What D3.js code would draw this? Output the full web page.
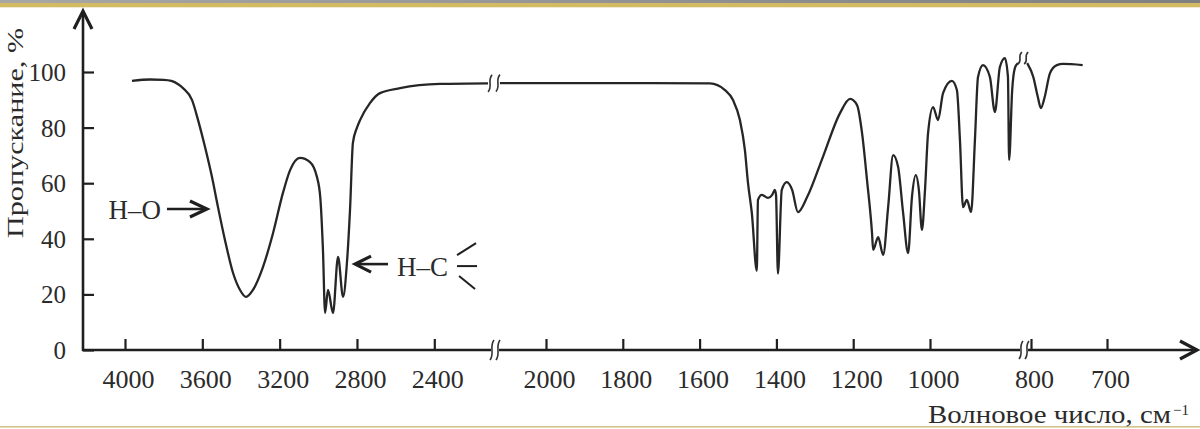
<!DOCTYPE html>
<html><head><meta charset="utf-8">
<script src="https://cdnjs.cloudflare.com/ajax/libs/d3/7.8.5/d3.min.js"></script>
<style>
body{margin:0;background:#fff;overflow:hidden} svg{display:block}
svg text{font-family:"Liberation Serif","DejaVu Serif","Times New Roman",serif !important;}
</style>
</head><body>
<svg id="c" width="1200" height="429"></svg>
<script>
// ---- data (wavenumber cm^-1, transmittance %) ----
const seg1Spectrum = [[3964,96.8],[3870,97.3],[3800,97.2],[3760,96.8],[3725,95.6],[3700,94.2],[3653,89.9],[3622,82.7],[3586,73.0],[3550,62.2],[3519,51.4],[3483,39.6],[3441,27.7],[3405,21.6],[3374,19.1],[3338,21.6],[3286,29.9],[3234,42.1],[3183,56.5],[3146,64.7],[3095,69.1],[3043,67.6],[3007,62.2],[2990,55],[2976,36],[2965,13.3],[2950,21.6],[2924,13.3],[2898,33.5],[2872,19.1],[2852,31.3],[2836,50.4],[2821,74.5],[2800,80],[2784,82.7],[2733,88.8],[2681,92.4],[2577,94.2],[2371,95.7],[2122,95.9]];
const seg2Spectrum = [[2120,96.0],[1990,96.0],[1729,96.0],[1573,95.9],[1534,93.5],[1513,89.9],[1495,82.7],[1482,71.9],[1474,60.1],[1464,49.3],[1451,28.5],[1448,54],[1438,55.8],[1422,54.7],[1411,55.8],[1404,57.6],[1401,55.8],[1396,27.5],[1386,57.6],[1373,60.4],[1359,57.6],[1344,49.6],[1320,55],[1279,69.4],[1234,85.3],[1208,90.3],[1190,88.1],[1177,78.1],[1164,61.1],[1151,42.1],[1148,36.0],[1135,40.6],[1122,34.2],[1109,51.4],[1096,70.1],[1083,65.8],[1070,49.3],[1057,34.9],[1047,55],[1037,62.9],[1029,57.6],[1021,43.2],[1013,57.6],[1005,78.1],[992,87.4],[979,82.7],[966,92.4],[943,96.8],[930,93.5],[922,75.5],[914,51.4],[904,54],[893,49.6],[883,75.5],[875,98.2],[862,102.5],[844,98.2],[831,85.6],[818,101.8],[805,105],[797,98.2],[794,68.3],[786,93.5],[779,101.4],[771,103.2]];
const seg3Spectrum = [[805,103.2],[797,98.2],[791,91],[787,87],[782,91],[775,99.6],[766,102.5],[758,102.9],[732,102.5]];
const yTicks = [0,20,40,60,80,100];
const seg1Ticks = [4000,3600,3200,2800,2400];
const seg2Ticks = [2000,1800,1600,1400,1200,1000];
const seg3Ticks = [800,700];
const yTitle = "Пропускание, %";
const xTitle = "Волновое число, см";
const xTitleSup = "−1";
const annotations = [
  {text:"H–O", wave:3576, t:50.7, seg:1, dir:"right"},
  {text:"H–C", wave:2810, t:30.9, seg:1, dir:"left"}
];

// ---- layout ----
const svg = d3.select("#c");
const ink = "#1f1f1f";
const serif = '"Liberation Serif","DejaVu Serif","Times New Roman",serif';

// decorative top / bottom bands
const defs = svg.append("defs");
const g0 = defs.append("linearGradient").attr("id","gb");
g0.append("stop").attr("offset","0%").attr("stop-color","#a9a6a6");
g0.append("stop").attr("offset","100%").attr("stop-color","#808080");
svg.append("rect").attr("x",0).attr("y",0).attr("width",1200).attr("height",3).attr("fill","url(#gb)");
svg.append("rect").attr("x",0).attr("y",3).attr("width",1200).attr("height",4.3).attr("fill","#d3bb64");
svg.append("rect").attr("x",0).attr("y",426).attr("width",1200).attr("height",1.6).attr("fill","#d2c48a");

const y = d3.scaleLinear().domain([0,100]).range([350,72]);
const x1 = d3.scaleLinear().domain([4000,2400]).range([125,434.3]);
const x2 = d3.scaleLinear().domain([2000,1000]).range([546,930]);
const x3 = d3.scaleLinear().domain([800,700]).range([1031,1107]);
const segScale = {1:x1,2:x2,3:x3};

// axes lines
const axisW = 2.6;
svg.append("line").attr("x1",83).attr("y1",351).attr("x2",83).attr("y2",12)
  .attr("stroke",ink).attr("stroke-width",axisW);
svg.append("path").attr("d","M74,29 L83,11 L92,29").attr("fill","none")
  .attr("stroke",ink).attr("stroke-width",3.2).attr("stroke-linejoin","miter");
[[82,491],[499,1020],[1028,1196]].forEach(s=>{
  svg.append("line").attr("x1",s[0]).attr("x2",s[1]).attr("y1",350).attr("y2",350)
    .attr("stroke",ink).attr("stroke-width",axisW);
});
svg.append("path").attr("d","M1180,341 L1197,350 L1180,359").attr("fill","none")
  .attr("stroke",ink).attr("stroke-width",3.2);

function breakMark(x, cy, h){
  svg.append("path")
    .attr("d",`M${x+2},${cy-h/2} C${x-3},${cy-h/6} ${x+3},${cy+h/6} ${x-2},${cy+h/2}`)
    .attr("fill","none").attr("stroke","#333").attr("stroke-width",1.6);
}
breakMark(492,350,20); breakMark(498,350,20);
breakMark(1021,350,18); breakMark(1027,350,18);

function styleText(sel, size){
  sel.style("font-family",serif).style("font-size",size+"px").attr("fill","#2b2b2b");
}

// y axis ticks
const yAxis = d3.axisLeft(y).tickValues(yTicks).tickSizeInner(-11).tickSizeOuter(0).tickPadding(17);
const gy = svg.append("g").attr("transform","translate(83,0)").call(yAxis);
gy.attr("font-family",null).attr("font-size",null);
gy.select(".domain").remove();
gy.selectAll(".tick line").attr("stroke",ink).attr("stroke-width",2.2);
styleText(gy.selectAll(".tick text").attr("dy","0.34em"), 25);

// x axis ticks
[[x1,seg1Ticks],[x2,seg2Ticks],[x3,seg3Ticks]].forEach(([sc,tv])=>{
  const ax = d3.axisBottom(sc).tickValues(tv).tickSizeInner(-11).tickSizeOuter(0).tickPadding(20).tickFormat(d3.format("d"));
  const g = svg.append("g").attr("transform","translate(0,350)").call(ax);
  g.attr("font-family",null).attr("font-size",null);
  g.select(".domain").remove();
  g.selectAll(".tick line").attr("stroke",ink).attr("stroke-width",2.2);
  styleText(g.selectAll(".tick text").attr("dx",3).attr("dy","0.7em"), 26);
});

// spectrum
[[seg1Spectrum,x1],[seg2Spectrum,x2],[seg3Spectrum,x3]].forEach(([data,sc])=>{
  const line = d3.line().x(d=>sc(d[0])).y(d=>y(d[1])).curve(d3.curveMonotoneX);
  svg.append("path").datum(data).attr("d",line).attr("fill","none")
    .attr("stroke","#262626").attr("stroke-width",2.3).attr("stroke-linejoin","round");
});
// breaks on the spectrum line
{
  const e1 = seg1Spectrum[seg1Spectrum.length-1], s2 = seg2Spectrum[0];
  breakMark(x1(e1[0])+2, y(e1[1]), 17);
  breakMark(x2(s2[0])-2, y(s2[1]), 17);
  const e2 = seg2Spectrum[seg2Spectrum.length-1], s3 = seg3Spectrum[0];
  breakMark(x2(e2[0])+2, y(e2[1])-5, 12);
  breakMark(x3(s3[0])-1, y(s3[1])-5, 12);
}

// annotations
annotations.forEach(a=>{
  const tx = segScale[a.seg](a.wave), ty = y(a.t);
  const g = svg.append("g");
  if(a.dir==="right"){
    g.append("line").attr("x1",tx-40).attr("x2",tx-2).attr("y1",ty).attr("y2",ty).attr("stroke",ink).attr("stroke-width",2.6);
    g.append("path").attr("d",`M${tx-17},${ty-8} L${tx},${ty} L${tx-17},${ty+8}`).attr("fill","none").attr("stroke",ink).attr("stroke-width",3.2);
    styleText(g.append("text").attr("x",tx-46).attr("y",ty+10).attr("text-anchor","end").text(a.text), 27);
  } else {
    g.append("line").attr("x1",tx+2).attr("x2",tx+33).attr("y1",ty).attr("y2",ty).attr("stroke",ink).attr("stroke-width",2.6);
    g.append("path").attr("d",`M${tx+16},${ty-8} L${tx},${ty} L${tx+16},${ty+8}`).attr("fill","none").attr("stroke",ink).attr("stroke-width",3.2);
    styleText(g.append("text").attr("x",tx+42).attr("y",ty+12).attr("text-anchor","start").text(a.text), 27);
    const cx = tx+102, cy = ty+2;
    g.append("line").attr("x1",cx).attr("y1",cy-11).attr("x2",cx+19).attr("y2",cy-23).attr("stroke",ink).attr("stroke-width",2);
    g.append("line").attr("x1",cx).attr("y1",cy).attr("x2",cx+20).attr("y2",cy).attr("stroke",ink).attr("stroke-width",2);
    g.append("line").attr("x1",cx+2).attr("y1",cy+10).attr("x2",cx+18).attr("y2",cy+23).attr("stroke",ink).attr("stroke-width",2);
  }
});

// axis titles
styleText(svg.append("text").attr("transform","translate(23,238) rotate(-90)")
  .attr("textLength",210).attr("lengthAdjust","spacingAndGlyphs").text(yTitle), 24);
styleText(svg.append("text").attr("x",928).attr("y",423)
  .attr("textLength",243).attr("lengthAdjust","spacingAndGlyphs").text(xTitle), 25);
styleText(svg.append("text").attr("x",1173).attr("y",415).text(xTitleSup), 15);
</script>
</body></html>
